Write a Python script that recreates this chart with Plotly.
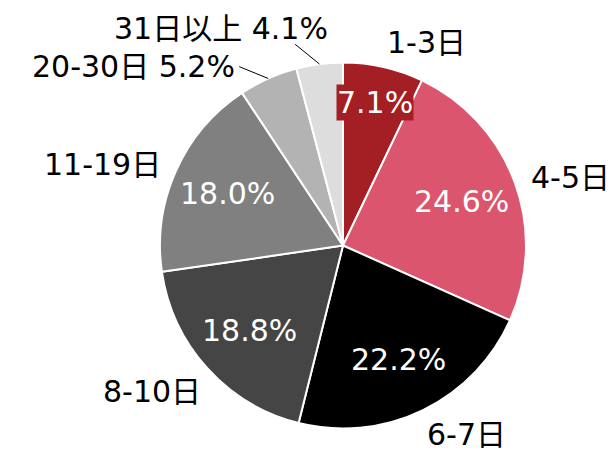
import math
import plotly.graph_objects as go

# ---- data ----
categories = ["1-3日", "4-5日", "6-7日", "8-10日", "11-19日", "20-30日", "31日以上"]
shares = [7.1, 24.6, 22.2, 18.8, 18.0, 5.2, 4.1]

# ---- style ----
colors = ["#a31f24", "#dc556e", "#000000", "#454545", "#808080", "#b3b3b3", "#dddddd"]
FONT = "DejaVu Sans, Noto Sans CJK JP"
FS = 30
# page body adds an 8px offset, so the figure is drawn 8px smaller in each direction
W, H = 606, 447
ML, MR, MT, MB = 152, 88, 54, 26
pw, ph = W - ML - MR, H - MT - MB
R = min(pw, ph) / 2
cx, cy = ML + pw / 2, MT + ph / 2
SMALL = 6.0      # slices below this share get an outside label with leader line
NARROW = 10.0    # slices below this share get their percent pushed outward
# pixel nudges for small-slice labels (text anchor relative to leader end)
small_nudge = {"31日以上": (35, 4), "20-30日": (-2, 0)}


def to_paper(x, y):
    return (x - ML) / pw, 1 - (y - MT) / ph


def polar(frac_r, deg):
    a = math.radians(deg)
    return cx + frac_r * R * math.sin(a), cy - frac_r * R * math.cos(a)


fig = go.Figure(go.Pie(
    labels=categories, values=shares, sort=False, direction="clockwise",
    marker=dict(colors=colors, line=dict(color="white", width=2)),
    textinfo="none", hoverinfo="skip", showlegend=False,
))

annotations, shapes = [], []
total = sum(shares)
cum = 0.0
for cat, v, col in zip(categories, shares, colors):
    mid = (cum + v / 2) / total * 360
    cum += v
    s, c = math.sin(math.radians(mid)), math.cos(math.radians(mid))
    pct = f"{v:.1f}%"
    if v >= SMALL:
        # percent inside
        rf = 0.8 if v < NARROW else 0.69
        x, y = to_paper(*polar(rf, mid))
        ann = dict(x=x, y=y, xref="paper", yref="paper", text=pct, showarrow=False,
                   font=dict(family=FONT, size=FS, color="white"),
                   xanchor="center", yanchor="middle")
        if v < NARROW:
            ann.update(bgcolor=col, borderpad=0)
        annotations.append(ann)
        # category label outside
        xa = "left" if s > 0.15 else ("right" if s < -0.15 else "center")
        ya = "bottom" if c > 0.5 else ("top" if c < -0.5 else "middle")
        lf = 1.08 if ya == "middle" else 1.03
        x, y = to_paper(*polar(lf, mid))
        annotations.append(dict(x=x, y=y, xref="paper", yref="paper", text=cat,
                                showarrow=False, font=dict(family=FONT, size=FS, color="black"),
                                xanchor=xa, yanchor=ya))
    else:
        ex, ey = polar(1.0, mid)
        lx, ly = polar(1.13, mid - 6)
        x0, y0 = to_paper(ex, ey)
        x1, y1 = to_paper(lx, ly)
        shapes.append(dict(type="line", xref="paper", yref="paper", x0=x0, y0=y0, x1=x1, y1=y1,
                           line=dict(color="black", width=1)))
        dx, dy = small_nudge.get(cat, (0, 0))
        tx, ty = to_paper(lx + dx, ly + dy)
        ya = "bottom" if abs(s) < 0.3 else "middle"
        annotations.append(dict(x=tx, y=ty, xref="paper", yref="paper", text=f"{cat} {pct}",
                                showarrow=False, font=dict(family=FONT, size=FS, color="black"),
                                xanchor="right", yanchor=ya))

fig.update_layout(
    width=W, height=H, margin=dict(l=ML, r=MR, t=MT, b=MB),
    paper_bgcolor="white", plot_bgcolor="white",
    annotations=annotations, shapes=shapes,
)
fig.write_html("out.html")
